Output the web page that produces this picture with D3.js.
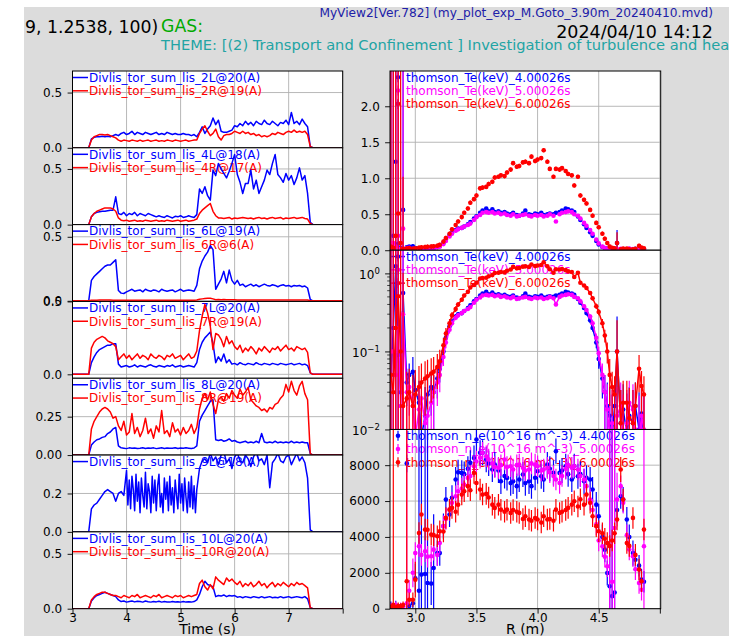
<!DOCTYPE html>
<html>
<head>
<meta charset="utf-8">
<script src="https://cdn.jsdelivr.net/npm/d3@7"></script>
<style>
body { margin: 0; background: #fff; }
svg { display: block; }
</style>
</head>
<body>
<div id="container"></div>
<script>
var WIDTH = 738, HEIGHT = 636;
var FONT = '"DejaVu Sans", sans-serif';

// ---- time traces (left column) ----
var time = [3.00, 3.30, 3.35, 3.40, 3.45, 3.50, 3.55, 3.60, 3.65, 3.70,
  3.75, 3.80, 3.85, 3.90, 3.95, 4.00, 4.05, 4.10, 4.15, 4.20,
  4.25, 4.30, 4.35, 4.40, 4.45, 4.50, 4.55, 4.60, 4.65, 4.70,
  4.75, 4.80, 4.85, 4.90, 4.95, 5.00, 5.05, 5.10, 5.15, 5.20,
  5.25, 5.30, 5.35, 5.40, 5.45, 5.50, 5.55, 5.60, 5.65, 5.70,
  5.75, 5.80, 5.85, 5.90, 5.95, 6.00, 6.05, 6.10, 6.15, 6.20,
  6.25, 6.30, 6.35, 6.40, 6.45, 6.50, 6.55, 6.60, 6.65, 6.70,
  6.75, 6.80, 6.85, 6.90, 6.95, 7.00, 7.05, 7.10, 7.15, 7.20,
  7.25, 7.30, 7.35, 7.40, 7.45, 8.00];

// finer sampling for the noisy 9L channel
var time9 = [3.00, 3.30, 3.35, 3.40, 3.45, 3.50, 3.55, 3.60, 3.65, 3.70,
  3.75, 3.80, 3.85, 3.90, 3.95,
  4.000, 4.025, 4.050, 4.075, 4.100, 4.125, 4.150, 4.175, 4.200, 4.225,
  4.250, 4.275, 4.300, 4.325, 4.350, 4.375, 4.400, 4.425, 4.450, 4.475,
  4.500, 4.525, 4.550, 4.575, 4.600, 4.625, 4.650, 4.675, 4.700, 4.725,
  4.750, 4.775, 4.800, 4.825, 4.850, 4.875, 4.900, 4.925, 4.950, 4.975,
  5.000, 5.025, 5.050, 5.075, 5.100, 5.125, 5.150, 5.175, 5.200, 5.225,
  5.250, 5.275, 5.300,
  5.35, 5.40, 5.45, 5.50, 5.55, 5.60, 5.65, 5.70, 5.75, 5.80,
  5.85, 5.90, 5.95, 6.00, 6.05, 6.10, 6.15, 6.20, 6.25, 6.30,
  6.35, 6.40, 6.45, 6.50, 6.55, 6.60, 6.65, 6.70, 6.75, 6.80,
  6.85, 6.90, 6.95, 7.00, 7.05, 7.10, 7.15, 7.20, 7.25, 7.30,
  7.35, 7.40, 7.45, 8.00];

var lis2L = [0, 0, 0.08, 0.095, 0.10, 0.10, 0.105, 0.10, 0.105, 0.10,
  0.11, 0.12, 0.11, 0.13, 0.14, 0.12, 0.13, 0.15, 0.12, 0.14,
  0.13, 0.12, 0.14, 0.13, 0.12, 0.13, 0.14, 0.12, 0.13, 0.12,
  0.14, 0.13, 0.12, 0.13, 0.12, 0.12, 0.13, 0.12, 0.12, 0.11,
  0.12, 0.10, 0.14, 0.19, 0.13, 0.17, 0.20, 0.27, 0.21, 0.25,
  0.15, 0.14, 0.14, 0.15, 0.16, 0.20, 0.19, 0.22, 0.20, 0.24,
  0.21, 0.23, 0.20, 0.24, 0.22, 0.21, 0.25, 0.22, 0.21, 0.24,
  0.22, 0.20, 0.23, 0.22, 0.25, 0.21, 0.32, 0.22, 0.24, 0.21,
  0.26, 0.22, 0.19, 0.01, 0, 0];
var lis2R = [0, 0, 0.07, 0.10, 0.11, 0.12, 0.12, 0.115, 0.12, 0.11,
  0.10, 0.09, 0.07, 0.06, 0.07, 0.065, 0.06, 0.07, 0.065, 0.06,
  0.07, 0.06, 0.065, 0.07, 0.06, 0.065, 0.07, 0.06, 0.065, 0.06,
  0.07, 0.065, 0.06, 0.07, 0.065, 0.06, 0.065, 0.07, 0.06, 0.065,
  0.07, 0.07, 0.13, 0.17, 0.20, 0.15, 0.11, 0.13, 0.17, 0.10,
  0.07, 0.11, 0.12, 0.12, 0.13, 0.15, 0.14, 0.13, 0.15, 0.13,
  0.14, 0.12, 0.13, 0.11, 0.12, 0.10, 0.11, 0.10, 0.11, 0.13,
  0.12, 0.14, 0.13, 0.12, 0.14, 0.15, 0.14, 0.16, 0.14, 0.15,
  0.14, 0.15, 0.12, 0.01, 0, 0];
var lis4L = [0, 0, 0.07, 0.10, 0.11, 0.115, 0.12, 0.12, 0.125, 0.13,
  0.13, 0.25, 0.10, 0.09, 0.11, 0.08, 0.10, 0.09, 0.11, 0.08,
  0.10, 0.09, 0.08, 0.10, 0.09, 0.08, 0.07, 0.08, 0.07, 0.065,
  0.08, 0.07, 0.06, 0.075, 0.07, 0.08, 0.065, 0.07, 0.08, 0.07,
  0.065, 0.09, 0.32, 0.28, 0.34, 0.26, 0.22, 0.49, 0.44, 0.55,
  0.50, 0.46, 0.42, 0.48, 0.55, 0.63, 0.45, 0.38, 0.28, 0.37,
  0.37, 0.49, 0.32, 0.40, 0.28, 0.34, 0.40, 0.49, 0.45, 0.55,
  0.63, 0.45, 0.42, 0.38, 0.46, 0.40, 0.44, 0.36, 0.42, 0.51,
  0.40, 0.44, 0.28, 0.02, 0, 0];
var lis4R = [0, 0, 0.07, 0.10, 0.12, 0.13, 0.14, 0.15, 0.15, 0.15,
  0.14, 0.12, 0.06, 0.04, 0.035, 0.04, 0.03, 0.035, 0.04, 0.03,
  0.035, 0.03, 0.04, 0.035, 0.03, 0.035, 0.04, 0.03, 0.035, 0.03,
  0.04, 0.035, 0.03, 0.035, 0.04, 0.03, 0.035, 0.04, 0.03, 0.035,
  0.04, 0.05, 0.10, 0.13, 0.15, 0.17, 0.19, 0.12, 0.08, 0.06,
  0.06, 0.055, 0.06, 0.065, 0.05, 0.06, 0.055, 0.06, 0.065, 0.06,
  0.055, 0.06, 0.05, 0.06, 0.065, 0.055, 0.06, 0.05, 0.06, 0.065,
  0.055, 0.06, 0.065, 0.05, 0.06, 0.055, 0.06, 0.065, 0.055, 0.06,
  0.065, 0.055, 0.05, 0.01, 0, 0];
var lis6L = [0, 0, 0.16, 0.19, 0.21, 0.23, 0.25, 0.27, 0.28, 0.28,
  0.30, 0.32, 0.08, 0.06, 0.057, 0.07, 0.08, 0.09, 0.075, 0.08,
  0.085, 0.07, 0.09, 0.08, 0.075, 0.085, 0.08, 0.07, 0.09, 0.08,
  0.075, 0.08, 0.085, 0.07, 0.08, 0.09, 0.075, 0.08, 0.085, 0.08,
  0.075, 0.12, 0.25, 0.31, 0.35, 0.38, 0.43, 0.40, 0.09, 0.13,
  0.17, 0.23, 0.14, 0.24, 0.16, 0.13, 0.16, 0.12, 0.13, 0.11,
  0.12, 0.13, 0.115, 0.125, 0.11, 0.12, 0.13, 0.12, 0.115, 0.125,
  0.12, 0.11, 0.12, 0.125, 0.115, 0.12, 0.11, 0.12, 0.115, 0.12,
  0.11, 0.115, 0.10, 0.01, 0, 0];
var lis6R = [0, 0, 0.004, 0.005, 0.005, 0.006, 0.006, 0.006, 0.006, 0.006,
  0.005, 0.005, 0.004, 0.004, 0.004, 0.004, 0.004, 0.004, 0.004, 0.004,
  0.004, 0.004, 0.004, 0.004, 0.004, 0.004, 0.004, 0.004, 0.004, 0.004,
  0.004, 0.004, 0.004, 0.004, 0.004, 0.004, 0.004, 0.004, 0.004, 0.004,
  0.004, 0.006, 0.012, 0.015, 0.018, 0.02, 0.02, 0.015, 0.008, 0.01,
  0.009, 0.01, 0.008, 0.009, 0.008, 0.008, 0.007, 0.007, 0.007, 0.007,
  0.007, 0.007, 0.007, 0.007, 0.007, 0.007, 0.007, 0.007, 0.007, 0.007,
  0.007, 0.007, 0.007, 0.007, 0.007, 0.007, 0.007, 0.007, 0.007, 0.007,
  0.007, 0.007, 0.006, 0, 0, 0];
var lis7L = [0, 0, 0.08, 0.12, 0.15, 0.17, 0.18, 0.19, 0.20, 0.20,
  0.21, 0.21, 0.07, 0.05, 0.055, 0.06, 0.05, 0.055, 0.065, 0.05,
  0.06, 0.055, 0.05, 0.06, 0.065, 0.055, 0.05, 0.06, 0.055, 0.05,
  0.06, 0.055, 0.065, 0.05, 0.055, 0.06, 0.05, 0.055, 0.06, 0.055,
  0.05, 0.08, 0.17, 0.22, 0.25, 0.27, 0.29, 0.21, 0.08, 0.12,
  0.09, 0.14, 0.08, 0.10, 0.07, 0.075, 0.065, 0.08, 0.07, 0.065,
  0.075, 0.07, 0.065, 0.08, 0.07, 0.065, 0.075, 0.07, 0.065, 0.075,
  0.07, 0.065, 0.075, 0.07, 0.065, 0.07, 0.075, 0.065, 0.07, 0.075,
  0.065, 0.07, 0.06, 0.01, 0, 0];
var lis7R = [0, 0, 0.18, 0.22, 0.24, 0.25, 0.26, 0.25, 0.23, 0.22,
  0.21, 0.19, 0.10, 0.12, 0.14, 0.11, 0.13, 0.10, 0.12, 0.14,
  0.11, 0.13, 0.12, 0.10, 0.14, 0.12, 0.11, 0.13, 0.12, 0.10,
  0.13, 0.12, 0.14, 0.11, 0.12, 0.13, 0.10, 0.12, 0.14, 0.11,
  0.12, 0.16, 0.30, 0.40, 0.48, 0.42, 0.33, 0.17, 0.28, 0.27,
  0.24, 0.19, 0.26, 0.21, 0.23, 0.19, 0.17, 0.20, 0.15, 0.18,
  0.16, 0.19, 0.17, 0.14, 0.18, 0.16, 0.19, 0.17, 0.15, 0.18,
  0.17, 0.19, 0.16, 0.18, 0.20, 0.17, 0.18, 0.16, 0.19, 0.18,
  0.17, 0.18, 0.15, 0.01, 0, 0];
var lis8L = [0, 0, 0.065, 0.085, 0.10, 0.105, 0.115, 0.12, 0.14, 0.15,
  0.17, 0.18, 0.06, 0.047, 0.045, 0.042, 0.047, 0.044, 0.046, 0.043,
  0.045, 0.048, 0.043, 0.046, 0.044, 0.047, 0.042, 0.045, 0.047, 0.043,
  0.046, 0.044, 0.045, 0.048, 0.043, 0.046, 0.044, 0.047, 0.045, 0.043,
  0.046, 0.06, 0.22, 0.26, 0.29, 0.32, 0.35, 0.36, 0.10, 0.095,
  0.10, 0.09, 0.095, 0.105, 0.09, 0.095, 0.085, 0.08, 0.085, 0.09,
  0.08, 0.085, 0.08, 0.09, 0.08, 0.14, 0.085, 0.08, 0.085, 0.08,
  0.09, 0.08, 0.085, 0.08, 0.085, 0.08, 0.09, 0.08, 0.085, 0.08,
  0.085, 0.08, 0.08, 0.01, 0, 0];
var lis8R = [0, 0, 0.17, 0.22, 0.25, 0.28, 0.30, 0.31, 0.30, 0.28,
  0.24, 0.25, 0.19, 0.16, 0.22, 0.13, 0.15, 0.27, 0.14, 0.18,
  0.12, 0.16, 0.24, 0.14, 0.17, 0.11, 0.19, 0.15, 0.29, 0.14,
  0.16, 0.12, 0.21, 0.15, 0.17, 0.13, 0.18, 0.14, 0.16, 0.20,
  0.14, 0.18, 0.30, 0.37, 0.40, 0.36, 0.41, 0.33, 0.27, 0.36,
  0.38, 0.35, 0.40, 0.37, 0.42, 0.39, 0.37, 0.43, 0.39, 0.41,
  0.44, 0.36, 0.34, 0.32, 0.31, 0.29, 0.30, 0.28, 0.31, 0.30,
  0.33, 0.34, 0.37, 0.39, 0.46, 0.41, 0.48, 0.42, 0.39, 0.45,
  0.48, 0.40, 0.36, 0.01, 0, 0];
var lis9L = [0, 0, 0.12, 0.14, 0.15, 0.17, 0.19, 0.21, 0.22, 0.21,
  0.20, 0.16, 0.20, 0.21, 0.19,
  0.32, 0.14, 0.27, 0.12, 0.29, 0.22, 0.11, 0.30, 0.16, 0.26,
  0.10, 0.28, 0.19, 0.13, 0.31, 0.12, 0.25, 0.21, 0.10, 0.29,
  0.15, 0.27, 0.11, 0.24, 0.30, 0.13, 0.20, 0.10, 0.28, 0.17,
  0.26, 0.11, 0.29, 0.14, 0.23, 0.10, 0.27, 0.19, 0.12, 0.30,
  0.15, 0.25, 0.11, 0.28, 0.18, 0.10, 0.26, 0.13, 0.29, 0.12,
  0.24, 0.10, 0.22,
  0.33, 0.37, 0.38, 0.36, 0.41, 0.37, 0.39, 0.35, 0.40, 0.42,
  0.36, 0.38, 0.33, 0.39, 0.41, 0.37, 0.36, 0.40, 0.38, 0.34,
  0.39, 0.42, 0.37, 0.38, 0.35, 0.40, 0.23, 0.36, 0.38, 0.41,
  0.37, 0.36, 0.39, 0.40, 0.35, 0.38, 0.41, 0.37, 0.39, 0.36,
  0.28, 0.01, 0, 0];
var lis10L = [0, 0, 0.07, 0.10, 0.12, 0.13, 0.14, 0.15, 0.14, 0.13,
  0.12, 0.11, 0.08, 0.065, 0.07, 0.06, 0.065, 0.07, 0.062, 0.068,
  0.065, 0.06, 0.07, 0.064, 0.06, 0.066, 0.062, 0.068, 0.06, 0.065,
  0.062, 0.06, 0.066, 0.061, 0.064, 0.06, 0.065, 0.06, 0.063, 0.06,
  0.065, 0.08, 0.13, 0.20, 0.25, 0.22, 0.21, 0.20, 0.11, 0.12,
  0.115, 0.125, 0.11, 0.12, 0.115, 0.12, 0.105, 0.11, 0.10, 0.11,
  0.105, 0.10, 0.11, 0.105, 0.10, 0.11, 0.10, 0.105, 0.11, 0.10,
  0.105, 0.10, 0.11, 0.10, 0.105, 0.11, 0.10, 0.105, 0.11, 0.105,
  0.10, 0.11, 0.09, 0.01, 0, 0];
var lis10R = [0, 0, 0.08, 0.11, 0.13, 0.14, 0.15, 0.15, 0.14, 0.13,
  0.12, 0.12, 0.11, 0.10, 0.12, 0.11, 0.10, 0.12, 0.11, 0.13,
  0.10, 0.11, 0.12, 0.11, 0.10, 0.12, 0.11, 0.13, 0.10, 0.11,
  0.12, 0.11, 0.10, 0.12, 0.11, 0.12, 0.10, 0.11, 0.12, 0.11,
  0.12, 0.13, 0.23, 0.26, 0.20, 0.17, 0.22, 0.18, 0.29, 0.26,
  0.24, 0.22, 0.28, 0.25, 0.27, 0.24, 0.22, 0.25, 0.20, 0.23,
  0.21, 0.24, 0.20, 0.22, 0.25, 0.21, 0.23, 0.19, 0.22, 0.24,
  0.20, 0.23, 0.21, 0.24, 0.22, 0.20, 0.23, 0.21, 0.24, 0.22,
  0.23, 0.21, 0.19, 0.01, 0, 0];

var leftLabels = [
  ['Divlis_tor_sum_lis_2L@20(A)', 'Divlis_tor_sum_lis_2R@19(A)'],
  ['Divlis_tor_sum_lis_4L@18(A)', 'Divlis_tor_sum_lis_4R@17(A)'],
  ['Divlis_tor_sum_lis_6L@19(A)', 'Divlis_tor_sum_lis_6R@6(A)'],
  ['Divlis_tor_sum_lis_7L@20(A)', 'Divlis_tor_sum_lis_7R@19(A)'],
  ['Divlis_tor_sum_lis_8L@20(A)', 'Divlis_tor_sum_lis_8R@19(A)'],
  ['Divlis_tor_sum_lis_9L@18(A)'],
  ['Divlis_tor_sum_lis_10L@20(A)', 'Divlis_tor_sum_lis_10R@20(A)']
];
var leftSeries = [[lis2L, lis2R], [lis4L, lis4R], [lis6L, lis6R], [lis7L, lis7R],
  [lis8L, lis8R], [lis9L], [lis10L, lis10R]];
var leftTime = [time, time, time, time, time, time9, time];
var leftTicks = [[0, 0.5], [0, 0.5], [0, 0.5], [0, 0.5], [0, 0.25], [0, 0.2], [0, 0.5]];
var timeTicks = [3, 4, 5, 6, 7, 8];

// ---- Thomson profiles (right column) ----
var R = [2.80, 2.82, 2.84, 2.86, 2.88, 2.90, 2.93, 2.95, 2.98, 3.00,
  3.03, 3.05, 3.08, 3.10, 3.13, 3.15, 3.18, 3.20, 3.23, 3.25,
  3.28, 3.30, 3.33, 3.35, 3.38, 3.40, 3.43, 3.45, 3.48, 3.50,
  3.53, 3.55, 3.58, 3.60, 3.63, 3.65, 3.68, 3.70, 3.73, 3.75,
  3.78, 3.80, 3.83, 3.85, 3.88, 3.90, 3.93, 3.95, 3.98, 4.00,
  4.03, 4.05, 4.08, 4.10, 4.13, 4.15, 4.18, 4.20, 4.23, 4.25,
  4.28, 4.30, 4.33, 4.35, 4.38, 4.40, 4.43, 4.45, 4.48, 4.50,
  4.53, 4.55, 4.57, 4.59, 4.61, 4.63, 4.65, 4.68, 4.70, 4.73,
  4.75, 4.78, 4.80, 4.83, 4.85, 4.87];

var te4 = [0.05, 0.20, 1.23, 0.09, 0.03, 0.56, 0.04, 0.05, 0.055, 0.032,
  0.022, 0.008, 0.015, 0.028, 0.035, 0.03, 0.045, 0.06, 0.10, 0.15,
  0.21, 0.24, 0.28, 0.30, 0.31, 0.33, 0.36, 0.39, 0.44, 0.47,
  0.52, 0.55, 0.58, 0.54, 0.57, 0.53, 0.54, 0.52, 0.53, 0.51,
  0.50, 0.52, 0.49, 0.48, 0.51, 0.55, 0.50, 0.49, 0.51, 0.50,
  0.52, 0.49, 0.50, 0.51, 0.50, 0.52, 0.53, 0.55, 0.58, 0.57,
  0.55, 0.53, 0.47, 0.42, 0.36, 0.31, 0.25, 0.20, 0.13, 0.08,
  0.045, 0.03, 0.02, 0.015, 0.008, 0.02, 0.10, 0.012, 0.018, 0.009,
  0.015, 0.012, 0.02, 0.01, 0.016, 0.008];
var teErr4 = [3, 2.5, 2.5, 2, 0.3, 3, 0.02, 0.02, 0.03, 0.02,
  0.02, 0.02, 0.02, 0.02, 0.02, 0.02, 0.02, 0.02, 0.02, 0.02,
  0.02, 0.02, 0.02, 0.02, 0.02, 0.02, 0.02, 0.02, 0.02, 0.02,
  0.02, 0.02, 0.02, 0.02, 0.02, 0.02, 0.02, 0.02, 0.02, 0.02,
  0.02, 0.02, 0.02, 0.02, 0.02, 0.02, 0.02, 0.02, 0.02, 0.02,
  0.02, 0.02, 0.02, 0.02, 0.02, 0.02, 0.02, 0.02, 0.02, 0.02,
  0.02, 0.02, 0.02, 0.02, 0.02, 0.02, 0.02, 0.02, 0.02, 0.02,
  0.02, 0.02, 0.02, 0.02, 0.02, 0.02, 0.18, 0.02, 0.02, 0.02,
  0.02, 0.02, 0.02, 0.02, 0.02, 0.02];
var te5 = [0.10, 0.10, 0.05, 0.20, 0.02, 0.30, 0.03, 0.035, 0.02, 0.008,
  0.018, 0.025, 0.012, 0.015, 0.022, 0.03, 0.04, 0.05, 0.085, 0.13,
  0.19, 0.23, 0.27, 0.29, 0.31, 0.33, 0.35, 0.37, 0.42, 0.46,
  0.49, 0.52, 0.53, 0.52, 0.53, 0.51, 0.52, 0.50, 0.51, 0.49,
  0.48, 0.50, 0.47, 0.48, 0.49, 0.50, 0.48, 0.47, 0.49, 0.48,
  0.49, 0.47, 0.48, 0.50, 0.48, 0.40, 0.50, 0.52, 0.53, 0.54,
  0.53, 0.50, 0.48, 0.44, 0.38, 0.34, 0.28, 0.23, 0.15, 0.095,
  0.05, 0.03, 0.018, 0.008, 0.012, 0.006, 0.015, 0.02, 0.008, 0.012,
  0.022, 0.018, 0.01, 0.007, 0.015, 0.01];
var teErr5 = [3, 3, 2.5, 3, 2, 3, 0.02, 0.02, 0.02, 0.02,
  0.02, 0.02, 0.02, 0.02, 0.02, 0.02, 0.02, 0.02, 0.02, 0.02,
  0.02, 0.02, 0.02, 0.02, 0.02, 0.02, 0.02, 0.02, 0.02, 0.02,
  0.02, 0.02, 0.02, 0.02, 0.02, 0.02, 0.02, 0.02, 0.02, 0.02,
  0.02, 0.02, 0.02, 0.02, 0.02, 0.02, 0.02, 0.02, 0.02, 0.02,
  0.02, 0.02, 0.02, 0.02, 0.02, 0.02, 0.02, 0.02, 0.02, 0.02,
  0.02, 0.02, 0.02, 0.02, 0.02, 0.02, 0.02, 0.02, 0.02, 0.02,
  0.02, 0.02, 0.02, 0.02, 0.02, 0.02, 0.02, 0.02, 0.02, 0.02,
  0.02, 0.02, 0.02, 0.02, 0.02, 0.02];
var te6 = [0.05, 0.03, 0.20, 0.51, 0.10, 0.02, 0.025, 0.03, 0.02, 0.028,
  0.035, 0.04, 0.045, 0.048, 0.052, 0.055, 0.063, 0.075, 0.12, 0.17,
  0.23, 0.29, 0.35, 0.40, 0.46, 0.52, 0.58, 0.66, 0.71, 0.76,
  0.86, 0.87, 0.88, 0.92, 0.95, 1.01, 1.02, 1.04, 1.03, 1.08,
  1.12, 1.21, 1.16, 1.17, 1.22, 1.23, 1.21, 1.30, 1.24, 1.26,
  1.28, 1.39, 1.23, 1.13, 1.02, 1.13, 1.12, 1.14, 1.10, 1.06,
  1.04, 0.90, 1.02, 0.76, 0.70, 0.65, 0.56, 0.48, 0.38, 0.32,
  0.23, 0.16, 0.10, 0.05, 0.035, 0.028, 0.10, 0.012, 0.022, 0.022,
  0.014, 0.012, 0.02, 0.06, 0.036, 0.028];
var teErr6 = [3, 3, 3, 3, 3, 1, 0.03, 0.03, 0.03, 0.03,
  0.03, 0.03, 0.03, 0.03, 0.03, 0.03, 0.03, 0.03, 0.03, 0.03,
  0.03, 0.03, 0.03, 0.03, 0.03, 0.03, 0.03, 0.03, 0.03, 0.03,
  0.03, 0.03, 0.03, 0.03, 0.03, 0.03, 0.03, 0.03, 0.03, 0.03,
  0.03, 0.03, 0.03, 0.03, 0.03, 0.03, 0.03, 0.03, 0.03, 0.03,
  0.03, 0.03, 0.03, 0.03, 0.03, 0.03, 0.03, 0.03, 0.03, 0.03,
  0.03, 0.03, 0.03, 0.03, 0.03, 0.03, 0.03, 0.03, 0.03, 0.03,
  0.03, 0.03, 0.03, 0.03, 0.02, 0.02, 0.15, 0.02, 0.02, 0.02,
  0.02, 0.02, 0.02, 0.03, 0.02, 0.02];

var ne44 = [100, 50, 150, 80, 60, 120, 8100, 150, 300, 1700,
  1000, 1900, 1930, 1430, 1400, 2270, 3100, 3100, 4600, 6080,
  5250, 6180, 7200, 7600, 7570, 7500, 7800, 8130, 8400, 9430,
  8690, 8690, 8310, 8100, 7760, 8030, 7700, 7100, 7400, 7290,
  7000, 7100, 6830, 7200, 7480, 7000, 7100, 6830, 7300, 7660,
  7380, 7200, 8030, 7800, 7570, 8780, 7570, 7700, 7940, 7500,
  7200, 7940, 7380, 7500, 7100, 7300, 7200, 6640, 5800, 5150,
  4000, 3290, 1990, 1250, 700, 900, 5500, 6270, 6080, 4970,
  4000, 3100, 2730, 2400, 1620, 1500];
var neErr44 = [300, 200, 300, 150, 200, 100, 500, 100, 300, 800,
  12000, 12000, 12000, 12000, 1200, 3000, 700, 700, 700, 700,
  700, 700, 700, 700, 700, 700, 700, 700, 700, 900,
  700, 700, 700, 700, 700, 700, 700, 700, 700, 700,
  700, 700, 700, 700, 700, 700, 700, 700, 700, 700,
  700, 700, 700, 700, 700, 700, 700, 700, 700, 700,
  700, 700, 700, 700, 700, 700, 700, 700, 700, 700,
  700, 700, 700, 12000, 12000, 12000, 700, 700, 700, 700,
  700, 700, 600, 600, 600, 600];
var ne5 = [150, 100, 200, 100, 150, 50, 300, 1000, 2000, 3100,
  3480, 3000, 3200, 2900, 2920, 3290, 3000, 3660, 4600, 5000,
  5520, 5900, 6270, 6550, 6700, 6920, 7290, 7400, 7940, 8200,
  8410, 8690, 8500, 8310, 8100, 7900, 7850, 8000, 8310, 7900,
  7940, 7760, 8000, 8030, 7850, 7700, 7760, 8100, 8030, 7940,
  7700, 7760, 7850, 7600, 7400, 7200, 7010, 7400, 7800, 8000,
  7850, 7940, 7760, 7400, 7200, 6830, 6080, 5500, 4700, 3800,
  3480, 2900, 2360, 3480, 1500, 4500, 6080, 6830, 5900, 4100,
  3300, 2920, 2200, 1430, 1060, 3480];
var neErr5 = [200, 200, 200, 200, 200, 200, 12000, 600, 800, 600,
  600, 600, 600, 600, 600, 600, 600, 600, 600, 600,
  600, 600, 600, 600, 600, 600, 600, 600, 600, 600,
  600, 600, 600, 600, 600, 600, 600, 600, 600, 600,
  600, 600, 600, 600, 600, 600, 600, 600, 600, 600,
  600, 600, 600, 600, 600, 600, 600, 600, 600, 600,
  600, 600, 600, 600, 600, 600, 600, 600, 600, 600,
  600, 600, 600, 12000, 12000, 12000, 1500, 600, 600, 600,
  600, 600, 600, 600, 600, 12000];
var ne6 = [100, 220, 80, 150, 100, 200, 1530, 500, 500, 1620,
  4220, 5250, 4410, 4400, 4130, 4100, 4040, 4320, 4300, 5060,
  5520, 5620, 5400, 5800, 6360, 6550, 6830, 6600, 7570, 7010,
  6640, 6360, 6400, 6200, 5800, 5620, 5800, 5520, 5400, 5520,
  5340, 5500, 5400, 5340, 5000, 5150, 4970, 4900, 5050, 4970,
  4800, 5150, 4970, 5000, 4900, 5520, 5340, 5400, 5500, 5620,
  5800, 5990, 5700, 6100, 5800, 6360, 5900, 5150, 4600, 4320,
  4200, 3900, 3660, 3500, 3800, 4200, 4970, 7760, 6080, 3660,
  3500, 5060, 3000, 2180, 1530, 4410];
var neErr6 = [100, 12000, 100, 200, 200, 200, 12000, 400, 400, 1000,
  600, 600, 600, 600, 600, 600, 600, 600, 600, 600,
  600, 600, 600, 600, 600, 600, 600, 600, 600, 600,
  600, 600, 600, 600, 600, 600, 600, 600, 600, 600,
  600, 600, 600, 600, 600, 600, 600, 600, 600, 600,
  600, 600, 600, 600, 600, 600, 600, 600, 600, 600,
  600, 600, 600, 600, 600, 600, 600, 600, 600, 600,
  600, 600, 600, 600, 600, 600, 600, 700, 600, 600,
  600, 600, 600, 600, 600, 600];

var teLabels = ['thomson_Te(keV)_4.00026s', 'thomson_Te(keV)_5.00026s', 'thomson_Te(keV)_6.00026s'];
var neLabels = ['thomson_n_e(10^16 m^-3)_4.40026s', 'thomson_n_e(10^16 m^-3)_5.00026s', 'thomson_n_e(10^16 m^-3)_6.00026s'];
var radiusTicks = [3.0, 3.5, 4.0, 4.5, 5.0];
var teTicks = [0, 0.5, 1.0, 1.5, 2.0];
var teLogTicks = [0.01, 0.1, 1];
var neTicks = [0, 2000, 4000, 6000, 8000];

// ---- layout ----
var TOP = 71, BOTTOM = 608.7;
var L_X0 = 72.5, L_X1 = 342.7, L_H = (BOTTOM - TOP) / 7;
var R_X0 = 390, R_X1 = 660.7, R_H = (BOTTOM - TOP) / 3;
var BLUE = '#0000ff', RED = '#ff0000', MAGENTA = '#ff00ff', GRID = '#b0b0b0';
var leftDomains = [[0, 0.695], [0, 0.69], [-0.005, 0.595], [-0.027, 0.5], [0, 0.4999], [0, 0.3999], [0, 0.70]];
var leftFormats = ['.1f', '.1f', '.1f', '.1f', '.2f', '.1f', '.1f'];

var xL = d3.scaleLinear().domain([3, 8]).range([L_X0, L_X1]);
var xR = d3.scaleLinear().domain([2.793, 5.007]).range([R_X0, R_X1]);

var translate = function (x, y) { return 'translate(' + x + ',' + y + ')'; };

var svg = d3.select('#container').append('svg')
  .attr('width', WIDTH).attr('height', HEIGHT)
  .attr('font-family', FONT);
var defs = svg.append('defs');

svg.append('rect').attr('width', WIDTH).attr('height', HEIGHT).attr('fill', '#fff');
svg.append('rect').attr('x', 24).attr('y', 7).attr('width', 705).attr('height', HEIGHT - 7).attr('fill', '#dcdcdc');

function addClip(id, x, y, w, h) {
  defs.append('clipPath').attr('id', id).append('rect')
    .attr('x', x).attr('y', y).attr('width', w).attr('height', h);
}
addClip('figclip', 24, 0, 705, HEIGHT);

// ---- header ----
var head = svg.append('g').attr('clip-path', 'url(#figclip)');
head.append('text').attr('x', 25).attr('y', 33).attr('font-size', 17.3).attr('fill', '#000').text('9, 1.2538, 100)');
head.append('text').attr('x', 161).attr('y', 32).attr('font-size', 17.3).attr('fill', '#00aa00').text('GAS:');
head.append('text').attr('x', 713).attr('y', 17).attr('font-size', 12.2).attr('text-anchor', 'end')
  .attr('fill', '#2020a8').text('MyView2[Ver.782] (my_plot_exp_M.Goto_3.90m_20240410.mvd)');
head.append('text').attr('x', 713).attr('y', 38).attr('font-size', 17.5).attr('text-anchor', 'end')
  .attr('fill', '#000').text('2024/04/10 14:12');
head.append('text').attr('x', 161).attr('y', 49.5).attr('font-size', 14.65).attr('fill', '#22a4a4')
  .text('THEME: [(2) Transport and Confinement ] Investigation of turbulence and heat transport');

function styleAxis(ax) {
  ax.select('.domain').remove();
  ax.attr('font-size', 12).attr('font-family', FONT);
  ax.selectAll('line').attr('stroke-width', 0.9);
}

// ---- left column ----
function drawLeftPanel(k) {
  var top = TOP + k * L_H, bottom = top + L_H;
  var y = d3.scaleLinear().domain(leftDomains[k]).range([bottom, top]);
  var t = leftTime[k];
  var g = svg.append('g');
  addClip('clipL' + k, L_X0, top, L_X1 - L_X0, L_H);
  g.append('rect').attr('x', L_X0).attr('y', top).attr('width', L_X1 - L_X0).attr('height', L_H).attr('fill', '#fff');
  var grid = g.append('g').attr('stroke', GRID).attr('stroke-width', 0.9);
  grid.selectAll('.vg').data(timeTicks).enter().append('line')
    .attr('x1', xL).attr('x2', xL).attr('y1', top).attr('y2', bottom);
  grid.selectAll('.hg').data(leftTicks[k]).enter().append('line')
    .attr('x1', L_X0).attr('x2', L_X1).attr('y1', y).attr('y2', y);

  var colors = [BLUE, RED];
  leftLabels[k].forEach(function (lab, j) {
    var ly = top + 6.5 + j * 13.3;
    g.append('line').attr('x1', L_X0).attr('x2', L_X0 + 15.5).attr('y1', ly).attr('y2', ly)
      .attr('stroke', colors[j]).attr('stroke-width', 1.5);
    g.append('text').attr('x', L_X0 + 16.5).attr('y', ly).attr('dy', '0.36em')
      .attr('font-size', 12).attr('fill', colors[j]).text(lab);
  });

  var line = d3.line().x(function (v, i) { return xL(t[i]); }).y(function (v) { return y(v); });
  var data = g.append('g').attr('clip-path', 'url(#clipL' + k + ')');
  leftSeries[k].forEach(function (s, j) {
    data.append('path').attr('d', line(s)).attr('fill', 'none')
      .attr('stroke', colors[j]).attr('stroke-width', 1.5).attr('stroke-linejoin', 'round');
  });

  g.append('rect').attr('x', L_X0).attr('y', top).attr('width', L_X1 - L_X0).attr('height', L_H)
    .attr('fill', 'none').attr('stroke', '#000').attr('stroke-width', 1);
  var ax = g.append('g').attr('transform', translate(L_X0, 0))
    .call(d3.axisLeft(y).tickValues(leftTicks[k]).tickFormat(d3.format(leftFormats[k])).tickSize(4.9).tickPadding(5.5));
  styleAxis(ax);
  if (k === 6) {
    var bx = g.append('g').attr('transform', translate(0, bottom))
      .call(d3.axisBottom(xL).tickValues(timeTicks)
        .tickFormat(function (d) { return d === 8 ? '' : d; }).tickSize(4.9).tickPadding(0));
    styleAxis(bx);
    g.append('text').attr('x', (L_X0 + L_X1) / 2).attr('y', 633.5).attr('text-anchor', 'middle')
      .attr('font-size', 14).text('Time (s)');
  }
}
for (var k = 0; k < 7; k++) drawLeftPanel(k);

// ---- right column ----
var teProfiles = [
  { v: te4, e: teErr4, c: BLUE }, { v: te5, e: teErr5, c: MAGENTA }, { v: te6, e: teErr6, c: RED }];
var neProfiles = [
  { v: ne44, e: neErr44, c: BLUE }, { v: ne5, e: neErr5, c: MAGENTA }, { v: ne6, e: neErr6, c: RED }];

function drawRightPanel(k, y, ticks, fmt, profiles, labels, withLine, isLog) {
  var top = TOP + k * R_H, bottom = top + R_H;
  var g = svg.append('g');
  addClip('clipR' + k, R_X0, top, R_X1 - R_X0, R_H);
  g.append('rect').attr('x', R_X0).attr('y', top).attr('width', R_X1 - R_X0).attr('height', R_H).attr('fill', '#fff');
  var grid = g.append('g').attr('stroke', GRID).attr('stroke-width', 0.9);
  grid.selectAll('.vg').data(radiusTicks).enter().append('line')
    .attr('x1', xR).attr('x2', xR).attr('y1', top).attr('y2', bottom);
  grid.selectAll('.hg').data(ticks).enter().append('line')
    .attr('x1', R_X0).attr('x2', R_X1).attr('y1', y).attr('y2', y);

  labels.forEach(function (lab, j) {
    var ly = top + 6.3 + j * 13.3, c = profiles[j].c;
    if (withLine) g.append('line').attr('x1', R_X0 + 1).attr('x2', R_X0 + 15).attr('y1', ly).attr('y2', ly)
      .attr('stroke', c).attr('stroke-width', 1.5);
    g.append('line').attr('x1', R_X0 + 8).attr('x2', R_X0 + 8).attr('y1', ly - 5).attr('y2', ly + 5)
      .attr('stroke', c).attr('stroke-width', 1.2);
    g.append('circle').attr('cx', R_X0 + 8).attr('cy', ly).attr('r', 2.3).attr('fill', c);
    g.append('text').attr('x', R_X0 + 16).attr('y', ly).attr('dy', '0.36em')
      .attr('font-size', 12).attr('fill', c).text(lab);
  });

  var floor = isLog ? 1e-5 : -1e9;
  var safe = function (v) { return y(Math.max(v, floor)); };
  var data = g.append('g').attr('clip-path', 'url(#clipR' + k + ')');
  profiles.forEach(function (p) {
    var pg = data.append('g');
    pg.selectAll('line').data(p.v).enter().append('line')
      .attr('x1', function (v, i) { return xR(R[i]); }).attr('x2', function (v, i) { return xR(R[i]); })
      .attr('y1', function (v, i) { return safe(v - p.e[i]); })
      .attr('y2', function (v, i) { return safe(v + p.e[i]); })
      .attr('stroke', p.c).attr('stroke-width', 1.2);
    if (withLine) {
      var line = d3.line().x(function (v, i) { return xR(R[i]); }).y(safe);
      pg.append('path').attr('d', line(p.v)).attr('fill', 'none').attr('stroke', p.c).attr('stroke-width', 1.5);
    }
    pg.selectAll('circle').data(p.v).enter().append('circle')
      .attr('cx', function (v, i) { return xR(R[i]); }).attr('cy', safe)
      .attr('r', 2.3).attr('fill', p.c);
  });

  g.append('rect').attr('x', R_X0).attr('y', top).attr('width', R_X1 - R_X0).attr('height', R_H)
    .attr('fill', 'none').attr('stroke', '#000').attr('stroke-width', 1);

  var ax = g.append('g').attr('transform', translate(R_X0, 0))
    .call(d3.axisLeft(y).tickValues(ticks).tickFormat(isLog ? '' : d3.format(fmt)).tickSize(4.9).tickPadding(5.3));
  styleAxis(ax);
  if (isLog) {
    var minor = [];
    [0.01, 0.1, 1].forEach(function (d) {
      for (var m = 2; m <= 9; m++) if (d * m < y.domain()[1]) minor.push(d * m);
    });
    ax.selectAll('.minor').data(minor).enter().append('line')
      .attr('x1', -2.8).attr('x2', 0).attr('y1', y).attr('y2', y).attr('stroke', '#000').attr('stroke-width', 0.7);
    ticks.forEach(function (d) {
      var t = ax.append('text').attr('x', -10.2).attr('y', y(d)).attr('dy', '0.45em')
        .attr('text-anchor', 'end').attr('fill', '#000');
      t.append('tspan').text('10');
      t.append('tspan').attr('dy', '-0.62em').attr('font-size', 8.5)
        .text(d === 1 ? '0' : '\u2212' + Math.round(-Math.log10(d)));
    });
  }
  return g;
}

var yTe = d3.scaleLinear().domain([0, 2.49]).range([TOP + R_H, TOP]);
var yTeLog = d3.scaleLog().domain([0.01, 1.98]).range([TOP + 2 * R_H, TOP + R_H]);
var yNe = d3.scaleLinear().domain([0, 9990]).range([BOTTOM, TOP + 2 * R_H]);

drawRightPanel(0, yTe, teTicks, '.1f', teProfiles, teLabels, false, false);
drawRightPanel(1, yTeLog, teLogTicks, '', teProfiles, teLabels, true, true);
var gNe = drawRightPanel(2, yNe, neTicks, 'd', neProfiles, neLabels, false, false);

var rx = gNe.append('g').attr('transform', translate(0, BOTTOM))
  .call(d3.axisBottom(xR).tickValues(radiusTicks)
    .tickFormat(function (d) { return d === 5 ? '' : d3.format('.1f')(d); }).tickSize(4.9).tickPadding(0));
styleAxis(rx);
gNe.append('text').attr('x', (R_X0 + R_X1) / 2).attr('y', 633.5).attr('text-anchor', 'middle')
  .attr('font-size', 14).text('R (m)');
</script>
</body>
</html>
